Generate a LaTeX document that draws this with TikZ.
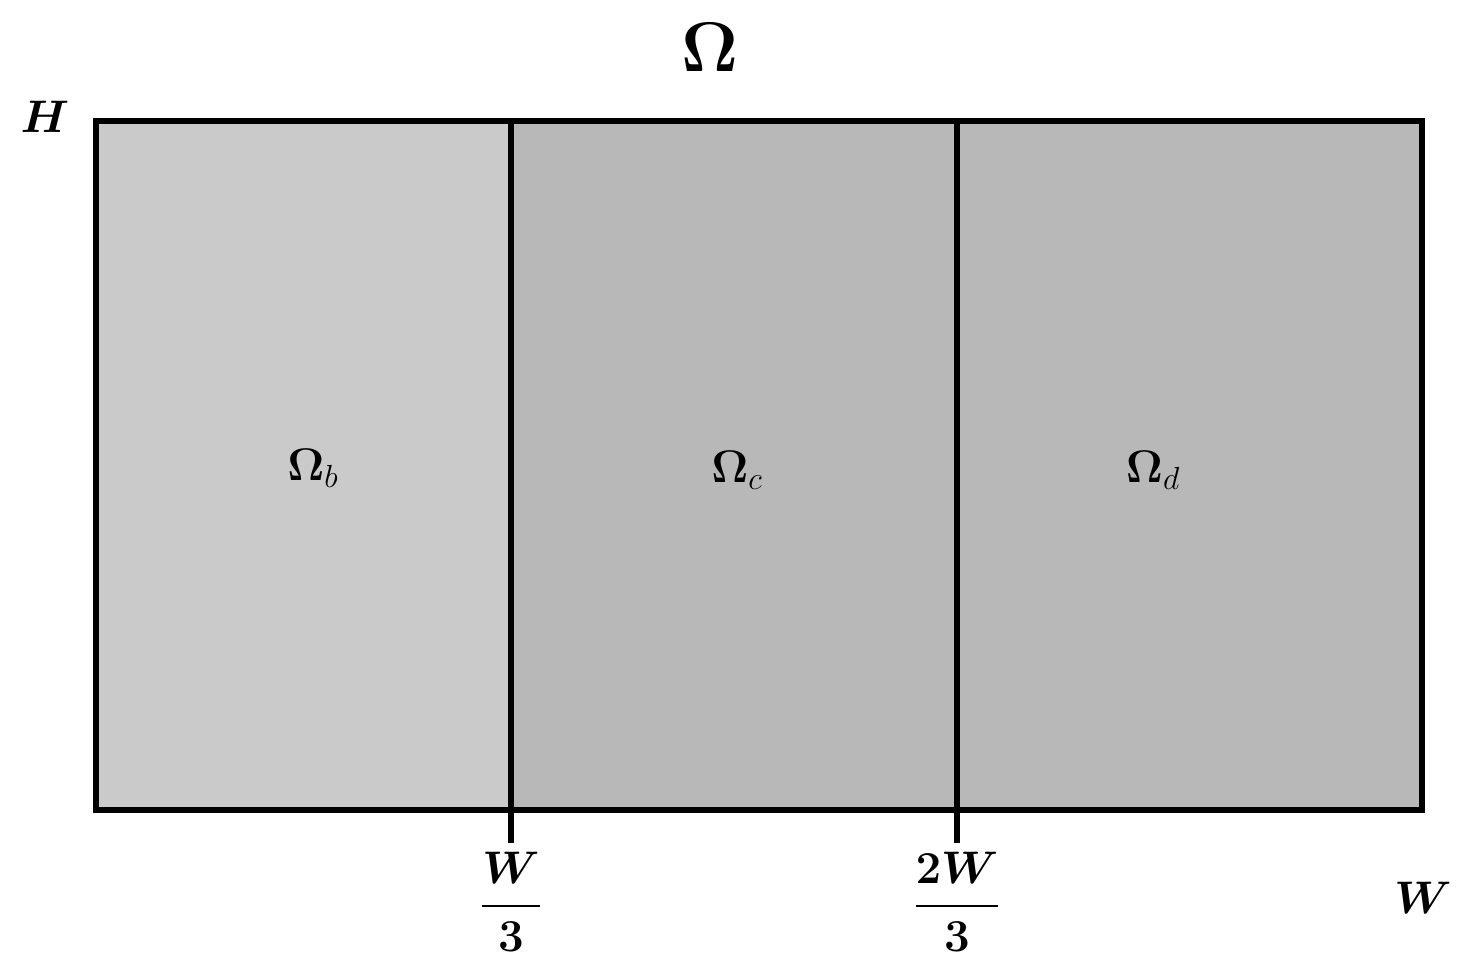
\RequirePackage{fix-cm}
\documentclass[tikz,border=0pt]{standalone}
\usepackage{amsmath,amssymb,bm}
\usepackage{tikz}
\usetikzlibrary{positioning}

\definecolor{regionB}{HTML}{CACACA}
\definecolor{regionCD}{HTML}{B8B8B8}

\begin{document}
\begin{tikzpicture}[line width=3.3pt, every node/.style={font=\fontsize{26}{31}\selectfont}]
            \useasboundingbox (0,0) rectangle (29.62,19.38);
            \coordinate (SW) at (1.92,3.18);
            \coordinate (NE) at (28.44,16.96);
            \coordinate (Bot1) at (10.22,3.18);
            \coordinate (Top1) at (10.22,16.96);
            \coordinate (Bot2) at (19.14,3.18);
            \coordinate (Top2) at (19.14,16.96);
            \coordinate (Tick1) at (10.22,2.52);
            \coordinate (Tick2) at (19.14,2.52);
            \fill[regionB]  (SW) rectangle (Top1);
            \fill[regionCD] (Bot1) rectangle (NE);
            \draw (SW) rectangle (NE);
            \draw (Top1) -- (Tick1);
            \draw (Top2) -- (Tick2);
            \node (Omega)  at (14.2,18.44) {\fontsize{40}{44}\selectfont$\bm{\Omega}$};
            \node (Hlabel) at (0.9,17.04)  {$\bm{H}$};
            \node (Wlabel) at (28.46,1.42) {$\bm{W}$};
            \node (Frac1) [below=0.12cm of Tick1, inner sep=0pt] {$\displaystyle\bm{\frac{W}{3}}$};
            \node (Frac2) [below=0.12cm of Tick2, inner sep=0pt] {$\displaystyle\bm{\frac{2W}{3}}$};
            \node (OmegaB) at (6.26,10.02)  {$\bm{\Omega}_{b}$};
            \node (OmegaC) at (14.74,9.98)  {$\bm{\Omega}_{c}$};
            \node (OmegaD) at (23.06,9.98)  {$\bm{\Omega}_{d}$};
        \end{tikzpicture}
\end{document}
